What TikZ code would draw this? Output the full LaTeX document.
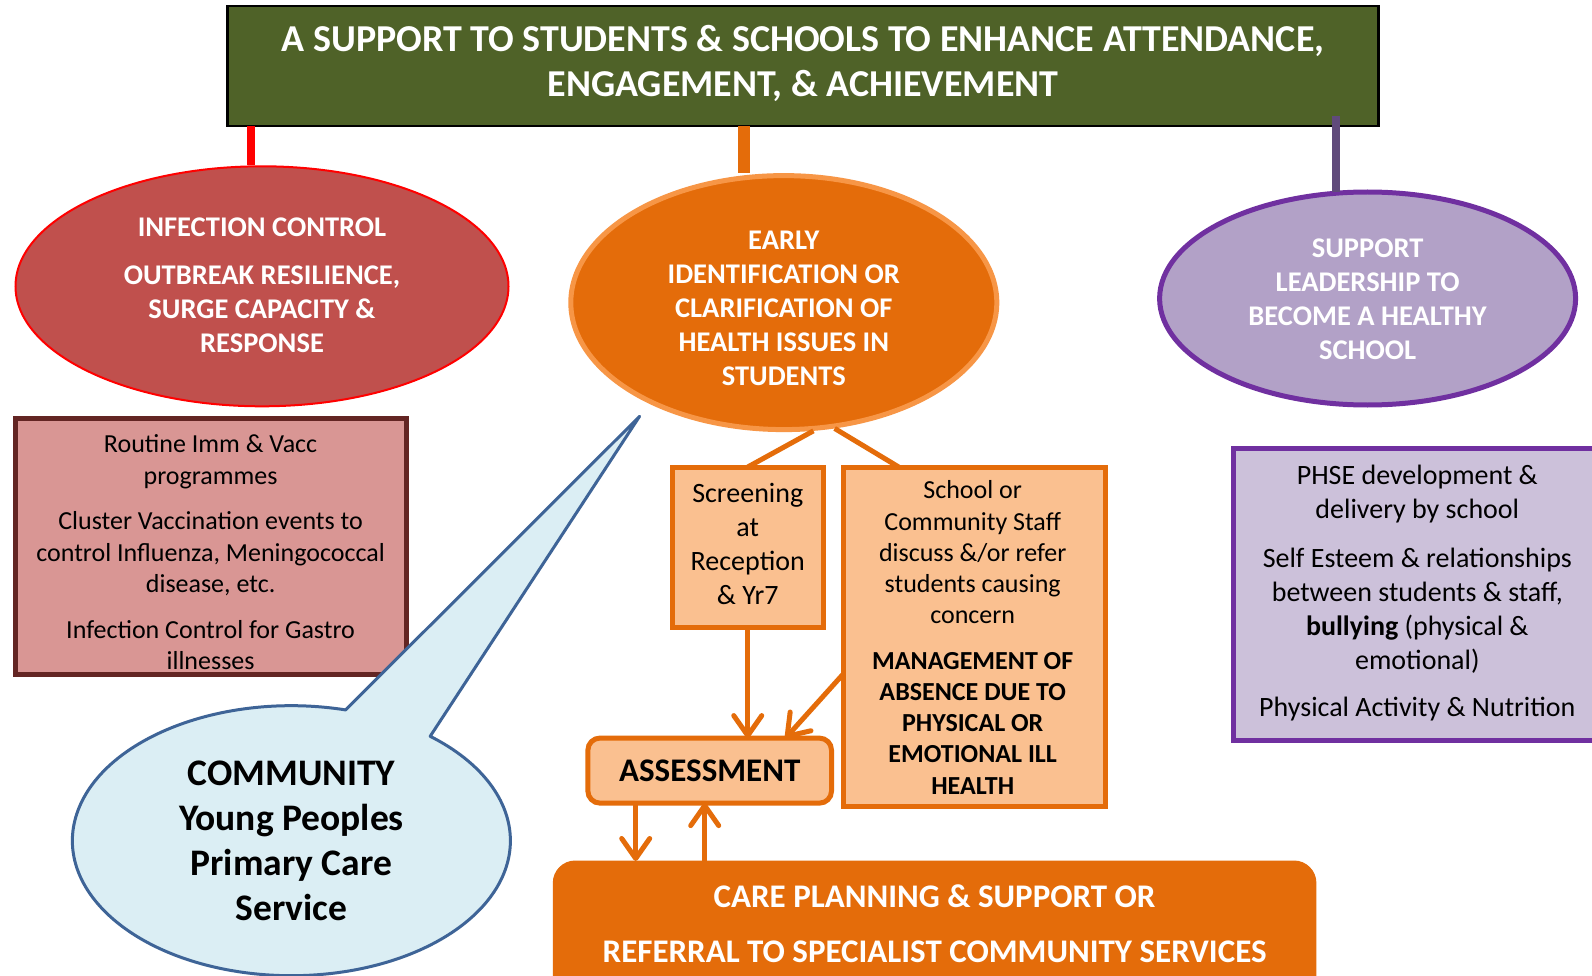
\documentclass[tikz,border=0pt]{standalone}
\usepackage{fontspec}
\setmainfont{Carlito}
\usetikzlibrary{shapes.geometric,shapes.callouts,arrows.meta}
\definecolor{titlegreen}{HTML}{4F6228}
\definecolor{icred}{HTML}{C0504D}
\definecolor{orangeC}{HTML}{E46C0A}
\definecolor{orangeL}{HTML}{F79646}
\definecolor{peach}{HTML}{FAC090}
\definecolor{lilac}{HTML}{B2A1C7}
\definecolor{violetC}{HTML}{7030A0}
\definecolor{plum}{HTML}{604A7B}
\definecolor{rosebox}{HTML}{D99694}
\definecolor{maroonC}{HTML}{632523}
\definecolor{lilacL}{HTML}{CCC1DA}
\definecolor{skyfill}{HTML}{DBEEF4}
\definecolor{skyline}{HTML}{3E6497}
\newcommand\fsz[2]{\fontsize{#1pt}{#2pt}\selectfont}
\begin{document}
\begin{tikzpicture}[x=1pt,y=-1pt,
  shapebox/.style={rectangle, inner sep=0pt, outer sep=0pt, line width=5pt},
  txt/.style={align=center, inner sep=0pt},
  arr/.style={draw=orangeC, line width=5pt, -{Straight Barb[length=20pt,width=28pt,round]}},
  link/.style={draw=orangeC, line width=5pt}
]
\clip (0,0) rectangle (1592,976);
\fill[white] (0,0) rectangle (1592,976);

% title
\node[shapebox, fill=titlegreen, draw=black, line width=2.5pt, minimum width=1151pt, minimum height=120pt] (top) at (803,66) {};
\node[txt, text=white, font=\fsz{38}{45}\bfseries] (toptext) at ([yshift=3pt]top.center) {A SUPPORT TO STUDENTS \& SCHOOLS TO ENHANCE ATTENDANCE,\\ENGAGEMENT, \& ACHIEVEMENT};

% ellipses
\node[ellipse, fill=icred, draw=red, line width=2pt, minimum width=493pt, minimum height=240pt, inner sep=0pt] (ic) at (262,286.3) {};
\node[txt, text=white, font=\fsz{28.5}{34}\bfseries] (ictext) at ([yshift=1pt]ic.center) {INFECTION CONTROL\\[14.7pt]OUTBREAK RESILIENCE,\\SURGE CAPACITY \&\\RESPONSE};

\node[ellipse, fill=orangeC, draw=orangeL, line width=5pt, minimum width=426pt, minimum height=254pt, inner sep=0pt] (ei) at (783.8,302.6) {};
\node[txt, text=white, font=\fsz{28.5}{34}\bfseries] (eitext) at ([yshift=-5.5pt]ei.center) {EARLY\\IDENTIFICATION OR\\CLARIFICATION OF\\HEALTH ISSUES IN\\STUDENTS};

\node[ellipse, fill=lilac, draw=violetC, line width=5pt, minimum width=416pt, minimum height=213pt, inner sep=0pt] (sl) at (1367.6,298.5) {};
\node[txt, text=white, font=\fsz{28.5}{34}\bfseries] (sltext) at ([yshift=-0.5pt]sl.center) {SUPPORT\\LEADERSHIP TO\\BECOME A HEALTHY\\SCHOOL};

% connectors from title
\coordinate (rx) at (250.8,0);
\draw[red, line width=8pt] (rx |- top.south) -- (rx |- ic.north);
\coordinate (ox) at (744.2,0);
\draw[orangeC, line width=12pt] (ox |- top.south) -- (ox |- ei.north);
\coordinate (px) at (1336.1,0);
\draw[plum, line width=8pt] ([yshift=10pt]px |- top.south) -- ([yshift=-3pt]px |- sl.north);

% red box
\node[shapebox, fill=rosebox, draw=maroonC, minimum width=391pt, minimum height=256pt] (rb) at (210.6,546.2) {};
\node[txt, font=\fsz{26}{31.5}] (rbtext) at ([yshift=-6pt]rb.center) {Routine Imm \& Vacc\\programmes\\[14pt]Cluster Vaccination events to\\control Influenza, Meningococcal\\disease, etc.\\[14pt]Infection Control for Gastro\\illnesses};

% speech bubble
\node[ellipse callout, fill=skyfill, draw=skyline, line width=3pt, line join=round, minimum width=438pt, minimum height=270pt, inner sep=0pt, callout absolute pointer={(639.6,416.3)}, callout pointer arc=25] (cb) at (291.4,840.7) {};
\node[txt, font=\fsz{37.5}{45}\bfseries] (cbtext) at (cb.center) {COMMUNITY\\Young Peoples\\Primary Care\\Service};

% screening / school boxes
\node[shapebox, fill=peach, draw=orangeC, minimum width=151pt, minimum height=160.5pt] (scr) at (747.75,547.25) {};
\node[txt, font=\fsz{28}{34}] (scrtext) at ([yshift=3pt]scr.center) {Screening\\at\\Reception\\\& Yr7};

\node[shapebox, fill=peach, draw=orangeC, minimum width=262pt, minimum height=339pt] (sch) at (974.7,636.5) {};
\node[txt, font=\fsz{26}{31.2}] (schtext) at ([xshift=-2pt,yshift=-1pt]sch.center) {School or\\Community Staff\\discuss \&/or refer\\students causing\\concern\\[14.5pt]\textbf{MANAGEMENT OF}\\\textbf{ABSENCE DUE TO}\\\textbf{PHYSICAL OR}\\\textbf{EMOTIONAL ILL}\\\textbf{HEALTH}};

\draw[link] (ei.283) -- (scr.north);
\draw[link] (ei.292) -- ([xshift=55pt]sch.north west);

% assessment and care
\node[shapebox, rounded corners=12pt, fill=peach, draw=orangeC, minimum width=243.6pt, minimum height=65pt] (as) at (709.7,770.6) {\fsz{33}{40}\bfseries ASSESSMENT};

\node[shapebox, rounded corners=22pt, fill=orangeC, draw=orangeC, line width=1pt, minimum width=762.6pt, minimum height=160pt] (care) at (934.6,941) {};
\node[txt, text=white, font=\fsz{33}{54.8}\bfseries] (caretext) at ([yshift=17pt]care.center) {CARE PLANNING \& SUPPORT OR\\REFERRAL TO SPECIALIST COMMUNITY SERVICES};

\draw[arr] (scr.south) -- (scr.south |- as.north);
\draw[arr] ([yshift=-37pt]sch.west) -- ([xshift=-46pt]as.north east);
\draw[arr] ([xshift=-74pt]as.south) -- ([xshift=-74pt]as.south |- care.north);
\draw[arr] ([xshift=-5pt]as.south |- care.north) -- ([xshift=-5pt]as.south);

% purple box
\node[shapebox, fill=lilacL, draw=violetC, minimum width=369.4pt, minimum height=291.4pt] (pb) at (1418.3,594.5) {};
\node[txt, font=\fsz{28}{34}] (pbtext) at ([xshift=-1pt,yshift=1pt]pb.center) {PHSE development \&\\delivery by school\\[14.5pt]Self Esteem \& relationships\\between students \& staff,\\\textbf{bullying} (physical \&\\emotional)\\[13.5pt]Physical Activity \& Nutrition};
\end{tikzpicture}
\end{document}
